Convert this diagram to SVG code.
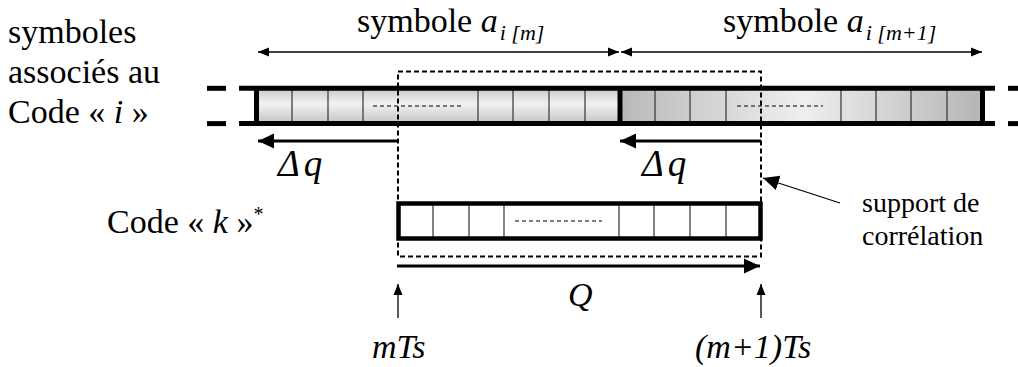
<svg xmlns="http://www.w3.org/2000/svg" width="1018" height="367" viewBox="0 0 1018 367">
<style>
text{font-family:"Liberation Serif","Times New Roman",serif;fill:#000}
.lbl{font-size:34px}
.small{font-size:28px}
.it{font-style:italic}
.sub{font-style:italic;font-size:22px}
.dq{font-style:italic;font-size:37px;letter-spacing:4px}
.thick{stroke:#000;stroke-width:5;fill:none}
.cell{stroke:#333;stroke-width:1.2}
.dash{stroke:#000;stroke-width:1;stroke-dasharray:4 3}
.thin{stroke:#000;stroke-width:1.3;fill:none}
.bold{stroke:#000;stroke-width:3;fill:none}
</style>
<defs>
<linearGradient id="gL" x1="0" y1="0" x2="0" y2="1">
<stop offset="0" stop-color="#c4c4c4"/><stop offset="0.45" stop-color="#f2f2f2"/><stop offset="1" stop-color="#bdbdbd"/>
</linearGradient>
<linearGradient id="gR" gradientUnits="userSpaceOnUse" x1="621" y1="0" x2="982" y2="0">
<stop offset="0" stop-color="#b8b8b8"/><stop offset="0.5" stop-color="#efefef"/><stop offset="1" stop-color="#b5b5b5"/>
</linearGradient>
<marker id="hs" markerUnits="userSpaceOnUse" markerWidth="12" markerHeight="10" refX="11" refY="5" orient="auto-start-reverse">
<path d="M0,0.5 L11,5 L0,9.5 Z" fill="#000"/>
</marker>
<marker id="hb" markerUnits="userSpaceOnUse" markerWidth="17" markerHeight="16" refX="16" refY="8" orient="auto-start-reverse">
<path d="M0,0.5 L16,8 L0,15.5 Z" fill="#000"/>
</marker>
</defs>
<rect width="1018" height="367" fill="#fff"/>

<g id="label-left">
<text class="lbl" x="8" y="43">symboles</text>
<text class="lbl" x="8" y="83">associés au</text>
<text class="lbl" x="8" y="123">Code « <tspan class="it">i</tspan> »</text>
</g>
<g id="label-am">
<text class="lbl" x="357" y="32">symbole <tspan class="it">a</tspan><tspan class="sub" dy="8" dx="2">i [m]</tspan></text>
</g>
<g id="label-am1">
<text class="lbl" x="723" y="32">symbole <tspan class="it">a</tspan><tspan class="sub" dy="8" dx="2">i [m+1]</tspan></text>
</g>

<g id="bar-i">
<rect x="256" y="86" width="365" height="40" fill="url(#gL)"/>
<rect x="621" y="86" width="362" height="40" fill="url(#gR)"/>
<g class="cell">
<line x1="292" y1="90" x2="292" y2="121"/><line x1="328" y1="90" x2="328" y2="121"/><line x1="363" y1="90" x2="363" y2="121"/>
<line x1="478" y1="90" x2="478" y2="121"/><line x1="513" y1="90" x2="513" y2="121"/><line x1="549" y1="90" x2="549" y2="121"/><line x1="585" y1="90" x2="585" y2="121"/>
<line x1="655" y1="90" x2="655" y2="121"/><line x1="690" y1="90" x2="690" y2="121"/><line x1="726" y1="90" x2="726" y2="121"/>
<line x1="841" y1="90" x2="841" y2="121"/><line x1="876" y1="90" x2="876" y2="121"/><line x1="911" y1="90" x2="911" y2="121"/><line x1="947" y1="90" x2="947" y2="121"/>
</g>
<line class="dash" x1="373" y1="106" x2="462" y2="106"/>
<line class="dash" x1="737" y1="106" x2="823" y2="106"/>
<g class="thick">
<line x1="239" y1="88.3" x2="995" y2="88.3"/>
<line x1="239" y1="123.6" x2="995" y2="123.6"/>
<line x1="256.5" y1="86" x2="256.5" y2="126"/>
<line x1="620" y1="86" x2="620" y2="126"/>
<line x1="982.5" y1="86" x2="982.5" y2="126"/>
<line x1="207" y1="88.3" x2="226" y2="88.3"/>
<line x1="207" y1="123.6" x2="226" y2="123.6"/>
<line x1="1008" y1="88.3" x2="1018" y2="88.3"/>
<line x1="1008" y1="123.6" x2="1018" y2="123.6"/>
</g>
</g>

<g id="label-code-k">
<text class="lbl" x="107" y="233">Code « <tspan class="it">k</tspan> »<tspan font-size="20" dy="-12">*</tspan></text>
</g>

<g id="bar-k">
<rect x="398.5" y="203.5" width="362" height="35" fill="#fff"/>
<g class="cell">
<line x1="433" y1="205" x2="433" y2="237"/><line x1="469" y1="205" x2="469" y2="237"/><line x1="504" y1="205" x2="504" y2="237"/>
<line x1="619" y1="205" x2="619" y2="237"/><line x1="654" y1="205" x2="654" y2="237"/><line x1="690" y1="205" x2="690" y2="237"/><line x1="726" y1="205" x2="726" y2="237"/>
</g>
<line class="dash" x1="515" y1="221" x2="602" y2="221"/>
<rect x="398.5" y="203.5" width="362" height="35" fill="none" stroke="#000" stroke-width="4.5"/>
</g>

<g id="support">
<rect x="398" y="71.5" width="363" height="185" fill="none" stroke="#000" stroke-width="2" stroke-dasharray="5 3"/>
<text class="small" x="862" y="212">support de</text>
<text class="small" x="862" y="245">corrélation</text>
</g>

<g id="connectors">
<line class="thin" x1="258" y1="52" x2="619" y2="52" marker-start="url(#hs)" marker-end="url(#hs)"/>
<line class="thin" x1="621" y1="52" x2="982" y2="52" marker-start="url(#hs)" marker-end="url(#hs)"/>
<line class="bold" x1="398" y1="141" x2="258" y2="141" marker-end="url(#hb)"/>
<line class="bold" x1="761" y1="141" x2="620" y2="141" marker-end="url(#hb)"/>
<line class="bold" x1="397" y1="266" x2="760" y2="266" marker-end="url(#hb)"/>
<line class="thin" x1="398" y1="318" x2="398" y2="284" marker-end="url(#hs)"/>
<line class="thin" x1="761" y1="318" x2="761" y2="284" marker-end="url(#hs)"/>
<line class="thin" x1="840" y1="203" x2="763" y2="178" marker-end="url(#hb)"/>
</g>

<g id="labels-bottom">
<text class="dq" x="278" y="176">Δq</text>
<text class="dq" x="642" y="176">Δq</text>
<text class="lbl it" x="568" y="306">Q</text>
<text class="lbl it" x="372" y="358">mTs</text>
<text class="lbl it" x="695" y="358">(m+1)Ts</text>
</g>
</svg>
